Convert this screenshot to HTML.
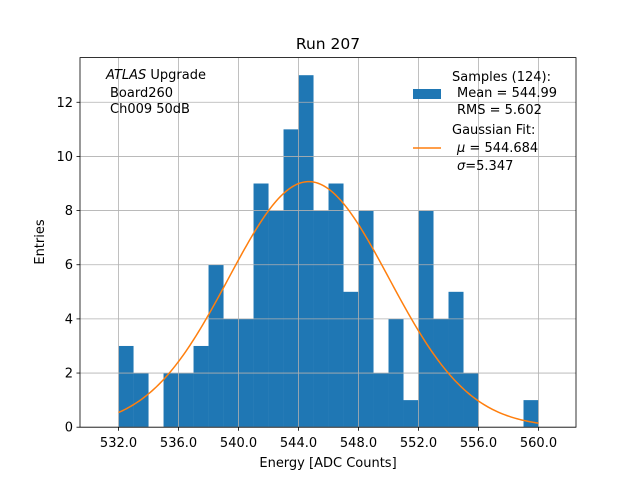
<!DOCTYPE html>
<html><head><meta charset="utf-8"><style>
body{margin:0;background:#fff}
svg{font-family:"DejaVu Sans","Liberation Sans",sans-serif}
</style></head><body>
<svg id="c" width="640" height="480" xmlns="http://www.w3.org/2000/svg">
<rect width="640" height="480" fill="#fff"/>
<g id="bars"></g><g id="grid"></g><g id="curve"></g><g id="axes"></g>
<text x="328" y="49" font-size="15.5" text-anchor="middle">Run 207</text>
<text x="328" y="467" font-size="13" text-anchor="middle">Energy [ADC Counts]</text>
<text transform="translate(44,242) rotate(-90)" font-size="13" text-anchor="middle">Entries</text>
<g font-size="13">
<text x="106" y="79"><tspan font-style="italic">ATLAS</tspan> Upgrade</text>
<text x="110" y="97">Board260</text>
<text x="110" y="113">Ch009 50dB</text>
</g>
<g font-size="13">
<rect x="413" y="89" width="28" height="10" fill="#1f77b4"/>
<text x="452" y="81">Samples (124):</text>
<text x="457" y="97">Mean = 544.99</text>
<text x="457" y="114">RMS = 5.602</text>
<line x1="413" y1="148" x2="441" y2="148" stroke="#ff7f0e" stroke-width="1.5"/>
<text x="452" y="134">Gaussian Fit:</text>
<text x="457" y="152"><tspan font-style="italic">μ</tspan> = 544.684</text>
<text x="457" y="170"><tspan font-style="italic">σ</tspan>=5.347</text>
</g>
</svg>
<script>
const binStarts=[532,533,534,535,536,537,538,539,540,541,542,543,544,545,546,547,548,549,550,551,552,553,554,555,556,557,558,559];
const counts=[3,2,0,2,2,3,6,4,4,9,8,11,13,8,9,5,8,2,4,1,8,4,5,2,0,0,0,1];
const xTicks=[532,536,540,544,548,552,556,560];
const yTicks=[0,2,4,6,8,10,12];
const fitParams=[9.07,544.684,5.347]; // amplitude, mu, sigma
const fitRange=[532,560];
const L=80,R=576,T=57.6,B=427.2,xmin=529.43,xmax=562.5,ymax=13.65;
const X=v=>L+(v-xmin)/(xmax-xmin)*(R-L);
const Y=v=>B-v/ymax*(B-T);
const NS="http://www.w3.org/2000/svg";
function mk(t,a,p){const e=document.createElementNS(NS,t);for(const k in a)e.setAttribute(k,a[k]);p.appendChild(e);return e;}
const grid=document.getElementById('grid'),bars=document.getElementById('bars'),curve=document.getElementById('curve'),axes=document.getElementById('axes');
xTicks.forEach(t=>{const x=X(t);
 const g=mk('line',{x1:x,x2:x,y1:T,y2:B,stroke:'#b0b0b0','stroke-width':0.8},grid);
 
 
 mk('line',{x1:x,x2:x,y1:B,y2:B+3.5,stroke:'#000','stroke-width':0.8},axes);
 const l=mk('text',{x:x,y:B+20,'font-size':13,'text-anchor':'middle'},axes);l.textContent=t.toFixed(1);
 
 
});
yTicks.forEach(t=>{const y=Y(t);
 const g=mk('line',{x1:L,x2:R,y1:y,y2:y,stroke:'#b0b0b0','stroke-width':0.8},grid);
 
 
 mk('line',{x1:L-3.5,x2:L,y1:y,y2:y,stroke:'#000','stroke-width':0.8},axes);
 const l=mk('text',{x:L-7,y:y+4.5,'font-size':13,'text-anchor':'end'},axes);l.textContent=t;
 
 
});
binStarts.forEach((s,i)=>{if(!counts[i])return;
 const r=mk('rect',{x:X(s),y:Y(counts[i]),width:X(s+1)-X(s),height:B-Y(counts[i]),fill:'#1f77b4'},bars);
 
 
});
let d='';const [A,mu,sg]=fitParams;
for(let i=0;i<=200;i++){const v=fitRange[0]+(fitRange[1]-fitRange[0])*i/200;const f=A*Math.exp(-0.5*((v-mu)/sg)**2);d+=(i?'L':'M')+X(v).toFixed(2)+','+Y(f).toFixed(2);}
const p=mk('path',{d:d,fill:'none',stroke:'#ff7f0e','stroke-width':1.5},curve);


const fr=mk('rect',{x:L,y:T,width:R-L,height:B-T,fill:'none',stroke:'#000','stroke-width':0.8},axes);


</script>
</body></html>
